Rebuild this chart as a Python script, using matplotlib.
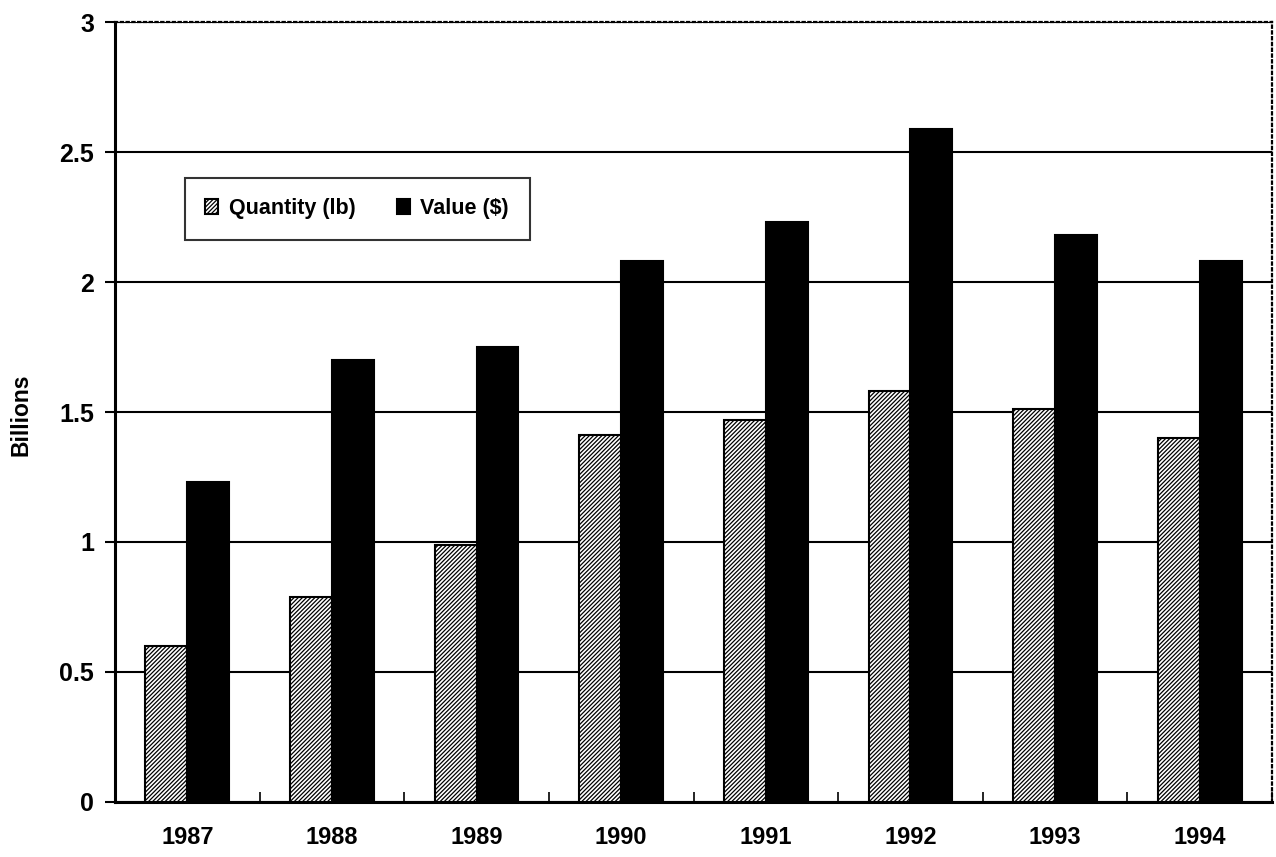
import matplotlib
matplotlib.use("Agg")
import matplotlib.pyplot as plt
import numpy as np

years = ["1987", "1988", "1989", "1990", "1991", "1992", "1993", "1994"]
quantity = [0.60, 0.79, 0.99, 1.41, 1.47, 1.58, 1.51, 1.40]
value = [1.23, 1.70, 1.75, 2.08, 2.23, 2.59, 2.18, 2.08]

plt.rcParams['font.family'] = ['Liberation Sans', 'DejaVu Sans']
plt.rcParams['font.weight'] = 'bold'
plt.rcParams['hatch.linewidth'] = 0.9

fig = plt.figure(figsize=(12.76, 8.57), dpi=100)
ax = fig.add_axes([0.0901, 0.0642, 0.9068, 0.9101])

x = np.arange(len(years))
w = 0.29
ax.bar(x - w/2, quantity, w, color='white', edgecolor='black', hatch='////////',
       linewidth=1.5, label='Quantity (lb)', zorder=3)
ax.bar(x + w/2, value, w, color='black', edgecolor='black',
       linewidth=1.5, label='Value ($)', zorder=3)

ax.set_xlim(-0.5, len(years) - 0.5)
ax.set_ylim(0, 3)
ax.set_yticks([0, 0.5, 1, 1.5, 2, 2.5, 3])
ax.set_yticklabels(['0', '0.5', '1', '1.5', '2', '2.5', '3'])
ax.yaxis.grid(True, color='black', linewidth=1.5, zorder=0)
ax.set_axisbelow(True)

ax.set_xticks(x)
ax.set_xticklabels(years)
ax.tick_params(axis='x', length=0, pad=17, labelsize=17)
ax.set_xticks(np.arange(len(years) + 1) - 0.5, minor=True)
ax.tick_params(axis='x', which='minor', direction='in', length=7, width=1.2)
ax.tick_params(axis='y', direction='out', length=7, width=1.5, labelsize=18, pad=8)

for s in ['left', 'bottom']:
    ax.spines[s].set_linewidth(2.2)
for s in ['top', 'right']:
    ax.spines[s].set_linestyle((0, (1, 1.6)))
    ax.spines[s].set_linewidth(1.6)

ax.set_ylabel('Billions', fontsize=16.5, fontweight='bold')
ax.yaxis.set_label_coords(-0.071, 0.496)

leg = ax.legend(loc='upper left', bbox_to_anchor=(0.0605, 0.8), borderaxespad=0,
                ncol=2, frameon=True, fancybox=False, fontsize=15.5,
                handlelength=0.6, handleheight=0.7, handletextpad=0.5,
                columnspacing=1.9, borderpad=0.95)
leg.get_frame().set_edgecolor('black')
leg.get_frame().set_linewidth(1.5)

fig.savefig('out.png', dpi=100)
